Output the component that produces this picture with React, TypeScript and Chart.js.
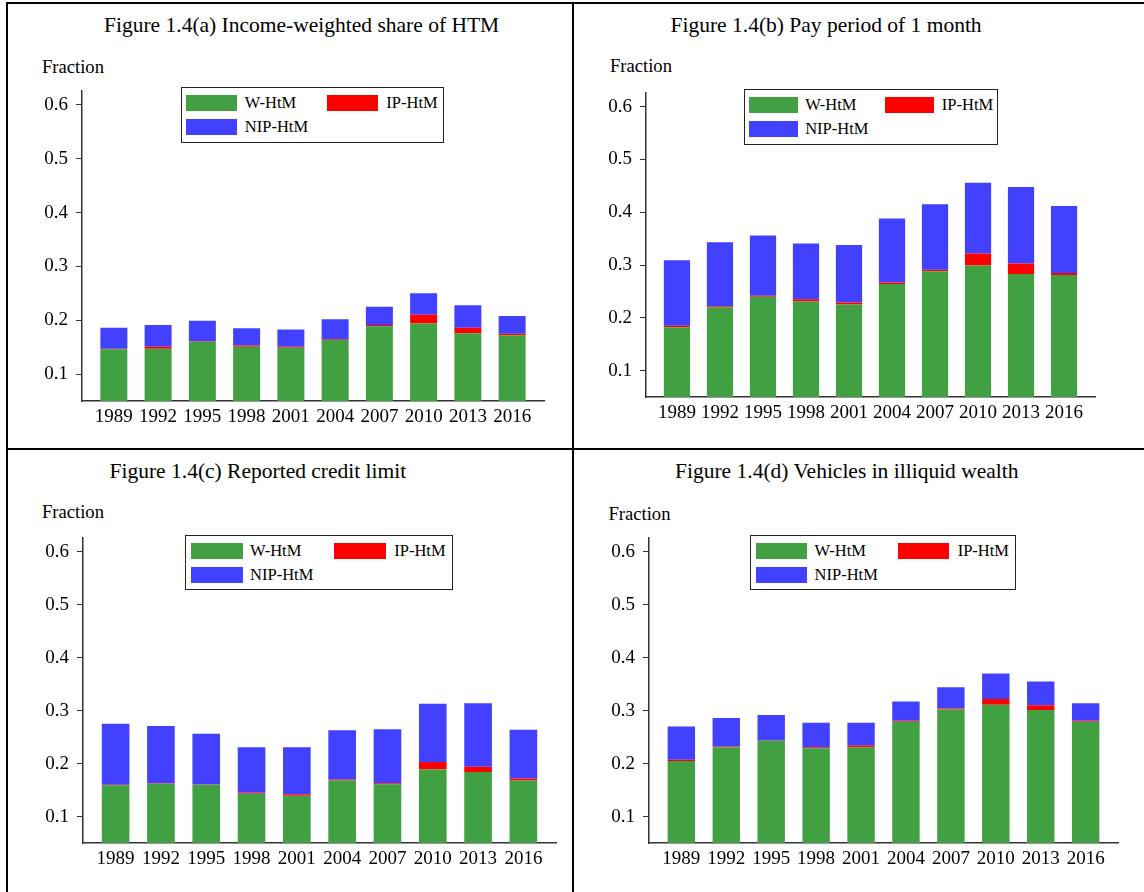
import React, { useEffect, useRef } from 'react';
import { Chart, registerables } from 'chart.js';

Chart.register(...registerables);

// ---------- data ----------
const years = ['1989', '1992', '1995', '1998', '2001', '2004', '2007', '2010', '2013', '2016'];
const yTicks = [0.1, 0.2, 0.3, 0.4, 0.5, 0.6];
const seriesNames = ['W-HtM', 'IP-HtM', 'NIP-HtM'];
const seriesColors = ['#41A041', '#FF0000', '#4141FF'];

const titles = [
  'Figure 1.4(a) Income-weighted share of HTM',
  'Figure 1.4(b) Pay period of 1 month',
  'Figure 1.4(c) Reported credit limit',
  'Figure 1.4(d) Vehicles in illiquid wealth',
];
const yAxisLabel = 'Fraction';

// (a) Income-weighted share of HTM
const aW = [0.146, 0.147, 0.160, 0.151, 0.149, 0.164, 0.189, 0.194, 0.176, 0.172];
const aIP = [0.001, 0.004, 0.001, 0.002, 0.002, 0.001, 0.002, 0.016, 0.010, 0.003];
const aNIP = [0.039, 0.040, 0.038, 0.032, 0.032, 0.037, 0.034, 0.040, 0.042, 0.033];

// (b) Pay period of 1 month
const bW = [0.182, 0.220, 0.240, 0.231, 0.225, 0.264, 0.288, 0.299, 0.283, 0.281];
const bIP = [0.003, 0.002, 0.002, 0.004, 0.004, 0.003, 0.003, 0.023, 0.020, 0.004];
const bNIP = [0.124, 0.121, 0.114, 0.106, 0.109, 0.121, 0.124, 0.134, 0.145, 0.127];

// (c) Reported credit limit
const cW = [0.159, 0.162, 0.160, 0.143, 0.139, 0.168, 0.161, 0.189, 0.184, 0.168];
const cIP = [0.001, 0.001, 0.0005, 0.002, 0.003, 0.002, 0.002, 0.014, 0.010, 0.004];
const cNIP = [0.115, 0.108, 0.096, 0.086, 0.089, 0.093, 0.102, 0.110, 0.120, 0.092];

// (d) Vehicles in illiquid wealth
const dW = [0.205, 0.231, 0.243, 0.229, 0.231, 0.279, 0.302, 0.311, 0.301, 0.279];
const dIP = [0.002, 0.001, 0.0005, 0.002, 0.003, 0.002, 0.002, 0.011, 0.009, 0.002];
const dNIP = [0.063, 0.054, 0.048, 0.046, 0.043, 0.036, 0.040, 0.048, 0.045, 0.033];

// ---------- layout ----------
const FONT = '"Liberation Serif", "Times New Roman", serif';
const Y_MIN = 0.05;
const Y_MAX = 0.627;
const X_MIN = -0.72;
const X_MAX = 9.72;

type Layout = {
  axisLeft: number; axisRight: number; axisTop: number; axisBottom: number;
  titleLeft: number; titleTop: number; fracLeft: number; fracTop: number;
  legLeft: number; legTop: number; legW: number; legH: number;
};

const layouts: Layout[] = [
  { axisLeft: 82, axisRight: 544, axisTop: 83, axisBottom: 401, titleLeft: 104, titleTop: 15, fracLeft: 42, fracTop: 57.5, legLeft: 181, legTop: 87, legW: 263, legH: 56 },
  { axisLeft: 646, axisRight: 1095, axisTop: 85, axisBottom: 397, titleLeft: 670.5, titleTop: 15, fracLeft: 610, fracTop: 56.8, legLeft: 743.5, legTop: 89, legW: 254, legH: 56 },
  { axisLeft: 83, axisRight: 556, axisTop: 530, axisBottom: 843, titleLeft: 109.5, titleTop: 460.5, fracLeft: 42, fracTop: 503, legLeft: 185, legTop: 535, legW: 268, legH: 55 },
  { axisLeft: 649, axisRight: 1118, axisTop: 530, axisBottom: 843, titleLeft: 675, titleTop: 461, fracLeft: 608.5, fracTop: 505, legLeft: 750, legTop: 535, legW: 266, legH: 55 },
];

const panelData = [
  [aW, aIP, aNIP],
  [bW, bIP, bNIP],
  [cW, cIP, cNIP],
  [dW, dIP, dNIP],
];

const YW = 60;
const XH = 40;
const PT = 12;
const PR = 8;

function Legend({ L }: { L: Layout }) {
  const w = L.legW;
  const items = [
    { k: 0, col: 0, row: 0 },
    { k: 1, col: 1, row: 0 },
    { k: 2, col: 0, row: 1 },
  ];
  return (
    <div
      style={{
        position: 'absolute', left: L.legLeft, top: L.legTop, width: w, height: L.legH,
        border: '1.5px solid #222', boxSizing: 'border-box', background: '#fff',
      }}
    >
      {items.map(({ k, col, row }) => {
        const sTop = row ? 31 : 7;
        return (
          <React.Fragment key={k}>
            <div
              style={{
                position: 'absolute', left: w * (col ? 0.552 : 0.017), top: sTop,
                width: w * 0.194, height: 15.5, background: seriesColors[k],
              }}
            />
            <div
              style={{
                position: 'absolute', left: w * (col ? 0.777 : 0.239), top: sTop + 7.75 - 7.5,
                fontFamily: FONT, fontSize: 16.5, lineHeight: '16px', color: '#000', whiteSpace: 'nowrap',
              }}
            >
              {seriesNames[k]}
            </div>
          </React.Fragment>
        );
      })}
    </div>
  );
}

function Panel({ idx }: { idx: number }) {
  const ref = useRef<HTMLCanvasElement>(null);
  const L = layouts[idx];
  const cl = L.axisLeft - YW;
  const ct = L.axisTop - PT;
  const cw = L.axisRight + PR - cl;
  const ch = L.axisBottom + XH - ct;

  useEffect(() => {
    if (!ref.current) return;
    const series = panelData[idx];
    const chart = new Chart(ref.current, {
      type: 'bar',
      data: {
        datasets: series.map((arr, k) => ({
          label: seriesNames[k],
          data: arr.map((v, i) => ({ x: i, y: v })),
          backgroundColor: seriesColors[k],
          borderWidth: 0,
          stack: 'htm',
          barPercentage: 0.61,
          categoryPercentage: 1,
        })),
      },
      options: {
        responsive: false,
        maintainAspectRatio: false,
        animation: false,
        layout: { padding: { top: PT, right: PR, left: 0, bottom: 0 } },
        plugins: {
          legend: { display: false },
          tooltip: { enabled: false },
          title: { display: false },
        },
        scales: {
          x: {
            type: 'linear',
            min: X_MIN,
            max: X_MAX,
            offset: false,
            grid: { display: false, drawTicks: false },
            border: { display: true, color: '#333', width: 1.5 },
            ticks: {
              font: { family: FONT, size: 19 },
              color: '#000',
              padding: 5,
              maxRotation: 0,
              autoSkip: false,
              callback: (v: any) => years[Number(v)] ?? '',
            },
            afterBuildTicks: (s: any) => {
              s.ticks = years.map((_, i) => ({ value: i }));
            },
            afterFit: (s: any) => {
              s.height = XH;
            },
          },
          y: {
            type: 'linear',
            min: Y_MIN,
            max: Y_MAX,
            stacked: true,
            grid: { drawOnChartArea: false, drawTicks: true, tickLength: 6, color: '#333', lineWidth: 1 },
            border: { display: true, color: '#333', width: 1.5 },
            ticks: {
              font: { family: FONT, size: 19 },
              color: '#000',
              padding: 8,
              callback: (v: any) => Number(v).toFixed(1),
            },
            afterBuildTicks: (s: any) => {
              s.ticks = yTicks.map((v) => ({ value: v }));
            },
            afterFit: (s: any) => {
              s.width = YW;
            },
          },
        },
      } as any,
    });
    return () => chart.destroy();
  }, [idx]);

  return (
    <>
      <div
        style={{
          position: 'absolute', left: L.titleLeft, top: L.titleTop, fontFamily: FONT,
          fontSize: 21.5, lineHeight: 1, color: '#000', whiteSpace: 'nowrap',
        }}
      >
        {titles[idx]}
      </div>
      <div
        style={{
          position: 'absolute', left: L.fracLeft, top: L.fracTop, fontFamily: FONT,
          fontSize: 18.6, lineHeight: 1, color: '#000', whiteSpace: 'nowrap',
        }}
      >
        {yAxisLabel}
      </div>
      <canvas
        ref={ref}
        width={cw}
        height={ch}
        style={{ position: 'absolute', left: cl, top: ct, width: cw, height: ch }}
      />
      <Legend L={L} />
    </>
  );
}

export default function App() {
  const line = (l: number, t: number, w: number, h: number) => (
    <div style={{ position: 'absolute', left: l, top: t, width: w, height: h, background: '#000' }} />
  );
  return (
    <div style={{ position: 'absolute', left: 0, top: 0, width: 1144, height: 892, background: '#fff', overflow: 'hidden' }}>
      {line(6, 2, 1138, 2)}
      {line(6, 2, 2, 890)}
      {line(572, 2, 2, 890)}
      {line(6, 448, 1138, 2)}
      {[0, 1, 2, 3].map((i) => (
        <Panel key={i} idx={i} />
      ))}
    </div>
  );
}
